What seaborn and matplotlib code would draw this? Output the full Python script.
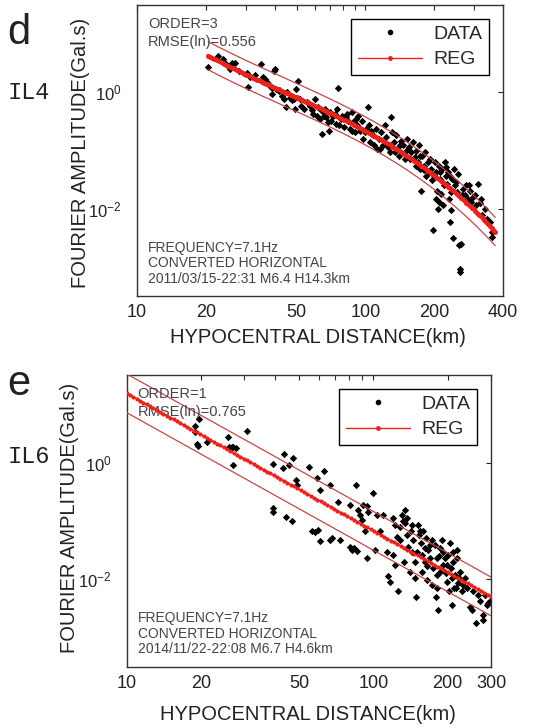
import numpy as np
import pandas as pd
import seaborn as sns
import matplotlib.pyplot as plt
from matplotlib.lines import Line2D
from matplotlib.ticker import FixedLocator, NullFormatter, LogFormatterSciNotation

# ---- panel d (IL4), values in log10 units ----
d_logx = [1.312, 1.356, 1.375, 1.386, 1.397, 1.407, 1.417, 1.430, 1.448, 1.480, 1.487, 1.494,
          1.516, 1.541, 1.552, 1.560, 1.571, 1.582, 1.592, 1.599, 1.605, 1.608, 1.593,
          1.622, 1.634, 1.643, 1.652, 1.657, 1.669, 1.678, 1.687, 1.695, 1.706, 1.692,
          1.713, 1.720, 1.730, 1.742, 1.757, 1.764, 1.771, 1.778, 1.786, 1.793, 1.800, 1.808,
          1.812, 1.822, 1.829, 1.837, 1.841, 1.844, 1.859,
          1.866, 1.873, 1.880, 1.885, 1.891, 1.899, 1.905, 1.914, 1.924, 1.931, 1.939, 1.946,
          1.953, 1.961, 1.968, 1.975, 1.983, 1.990, 1.997,
          2.012, 2.016, 2.022, 2.031, 2.036, 2.045, 2.051, 2.060, 2.070, 2.077, 2.085, 2.092,
          2.099, 2.106, 2.114, 2.118, 2.124, 2.133, 2.138, 2.147, 2.157, 2.165, 2.172,
          2.182, 2.191, 2.201, 2.208, 2.216, 2.223, 2.230, 2.235, 2.241, 2.245, 2.249, 2.255,
          2.261, 2.267, 2.274, 2.281, 2.289, 2.293,
          2.296, 2.303, 2.308, 2.311, 2.318, 2.322, 2.328, 2.332, 2.337, 2.340, 2.347, 2.351,
          2.357, 2.362, 2.366, 2.372, 2.376, 2.380, 2.383, 2.386, 2.391, 2.395,
          2.401, 2.405, 2.410, 2.413, 2.415, 2.420, 2.427, 2.434, 2.442, 2.449, 2.456, 2.464,
          2.471, 2.478, 2.485, 2.493, 2.500, 2.512, 2.522, 2.532, 2.544, 2.554, 2.555,
          1.800, 1.818, 1.851, 1.876, 1.920, 1.943, 1.958, 2.004, 2.026, 2.063, 2.128, 2.150,
          2.179, 2.197, 2.220, 2.238, 2.258, 2.278, 2.299, 2.325, 2.354, 2.369, 2.343, 2.313,
          2.322, 2.376, 2.424, 2.453, 2.507]
d_logy = [0.43, 0.62, 0.57, 0.50, 0.46, 0.40, 0.50, 0.50, 0.37, 0.34, 0.09, 0.27,
          0.29, 0.48, 0.27, 0.23, 0.17, 0.11, 0.07, 0.37, 0.40, 0.06, -0.03,
          0.03, -0.06, -0.11, -0.26, 0.00, -0.09, -0.14, -0.11, 0.06, 0.20, -0.29,
          -0.11, -0.23, -0.29, -0.17, -0.23, -0.31, -0.37, -0.11, -0.40, -0.26, -0.46, -0.71,
          -0.34, -0.29, -0.43, -0.51, -0.66, -0.34, -0.40,
          -0.37, -0.54, 0.07, -0.57, -0.46, -0.40, -0.60, -0.43, -0.49, -0.63, -0.34, -0.51,
          -0.69, -0.57, -0.40, -0.66, -0.49, -0.80, -0.69,
          -0.26, -0.57, -0.86, -0.74, -0.91, -0.63, -0.97, -0.80, -0.69, -0.91, -0.57, -0.77,
          -0.94, -1.03, -0.43, -0.69, -0.86, -0.74, -0.97, -1.09, -0.83, -0.91, -1.14,
          -0.80, -0.94, -1.03, -0.86, -1.11, -1.00, -1.20, -0.91, -1.31, -1.69, -1.09, -1.26,
          -1.03, -1.43, -1.20, -1.14, -1.31, -1.51,
          -2.37, -1.20, -1.83, -1.37, -2.00, -1.26, -1.49, -1.74, -1.31, -1.94, -1.20, -1.43,
          -1.57, -1.37, -1.83, -2.23, -2.03, -1.49, -2.51, -1.31, -1.60, -1.54,
          -1.71, -1.40, -2.63, -3.03, -3.09, -2.60, -1.66, -1.77, -1.60, -1.83, -1.69, -1.89,
          -1.80, -1.77, -1.94, -1.57, -1.91, -2.11, -2.00, -2.17, -2.23, -2.40, -2.49,
          -0.29, -0.40, -0.49, -0.29, -0.37, -0.66, -0.46, -0.63, -0.66, -0.97, -1.03, -0.91,
          -1.00, -1.14, -1.26, -1.09, -1.34, -1.37, -1.43, -1.37, -1.29, -1.43, -1.60, -1.69,
          -1.89, -1.71, -1.77, -1.60, -1.83]

# ---- panel e (IL6) ----
e_logx = [1.293, 1.277, 1.277, 1.284, 1.291, 1.324, 1.412, 1.416, 1.426, 1.432, 1.443, 1.432,
          1.489, 1.595, 1.595, 1.595, 1.638, 1.646, 1.632, 1.659, 1.669, 1.673, 1.686, 1.689,
          1.741, 1.750, 1.764, 1.777, 1.770, 1.784, 1.800, 1.784, 1.824, 1.824, 1.831, 1.858,
          1.865, 1.905, 1.930, 1.905, 1.912, 1.922, 1.932, 1.939, 1.946, 1.953, 1.959, 1.966,
          1.973, 1.973, 1.980, 2.000, 2.007, 2.014, 2.027, 2.041, 2.054, 2.061, 2.068, 2.078,
          2.081, 2.088, 2.095, 2.101, 2.108, 2.115, 2.122, 2.124, 2.128, 2.135, 2.138, 2.142,
          2.149, 2.155, 2.162, 2.169, 2.173, 2.176, 2.182, 2.186, 2.192, 2.196, 2.203, 2.209,
          2.214, 2.219, 2.223, 2.230, 2.236, 2.243, 2.250, 2.254, 2.257, 2.264, 2.268, 2.270,
          2.277, 2.284, 2.291, 2.295, 2.297, 2.304, 2.308, 2.311, 2.314, 2.318, 2.322, 2.324,
          2.331, 2.335, 2.338, 2.341, 2.345, 2.351, 2.358, 2.365, 2.372, 2.378, 2.392, 2.399,
          2.405, 2.416, 2.426, 2.432, 2.443, 2.446, 2.453, 2.459, 2.466, 2.473,
          2.088, 2.108, 2.128, 2.151, 2.189, 2.209, 2.230, 2.257, 2.270, 2.284, 2.300, 2.318,
          2.327, 2.349, 2.257, 2.236, 2.216, 2.169, 2.155, 2.196]
e_logy = [0.74, 0.62, 0.53, 0.31, 0.29, 0.36, 0.43, 0.27, 0.26, 0.27, 0.25, -0.04,
          0.54, -0.03, -0.78, -0.84, 0.14, -0.93, -0.10, -0.05, -1.01, 0.07, -0.30, -0.38,
          -0.08, -1.18, -1.19, -1.15, -0.26, -0.47, -0.14, -1.35, -0.38, -1.33, -1.30, -0.67,
          -1.33, -0.73, -0.38, -1.44, -1.50, -1.47, -1.51, -0.81, -0.90, -0.98, -0.73, -1.18,
          -0.75, -1.64, -0.84, -0.53, -1.50, -0.90, -1.18, -0.90, -1.53, -1.95, -2.04, -1.58,
          -0.95, -1.75, -1.27, -2.21, -1.33, -0.90, -1.01, -1.70, -0.81, -0.95, -1.24, -1.44,
          -1.87, -1.07, -1.33, -1.98, -2.30, -1.53, -1.07, -1.24, -1.38, -1.58, -1.18, -1.70,
          -1.30, -2.01, -1.50, -1.64, -1.33, -1.81, -1.41, -2.30, -2.15, -2.53, -1.61, -1.47,
          -1.33, -1.75, -1.64, -1.90, -2.04, -1.58, -2.21, -1.38, -1.81, -2.44, -1.70, -1.53,
          -1.93, -2.15, -1.64, -1.50, -2.07, -1.87, -2.21, -2.10, -1.98, -2.15, -2.47, -2.53,
          -2.21, -2.75, -2.27, -2.38, -2.61, -2.70, -2.27, -2.44, -2.41, -2.38,
          -1.07, -1.10, -1.04, -1.18, -1.18, -1.47, -1.41, -1.64, -1.87, -1.53, -1.75, -1.98,
          -2.15, -1.98, -1.93, -2.10, -1.78, -1.70, -1.53, -1.87]

panels = [
    dict(letter="d", station="IL4", logx=d_logx, logy=d_logy, order=3, rmse=0.556,
         xlim=(10, 400), xticks=[10, 20, 50, 100, 200, 400], curve=(20.5, 370),
         info=["FREQUENCY=7.1Hz", "CONVERTED HORIZONTAL", "2011/03/15-22:31 M6.4 H14.3km"],
         rect=[0.2528, 0.5934, 0.6752, 0.3997], reg_lw=2.6, reg_ms=3.6, npts=160),
    dict(letter="e", station="IL6", logx=e_logx, logy=e_logy, order=1, rmse=0.765,
         xlim=(10, 300), xticks=[10, 20, 50, 100, 200, 300], curve=(10, 300),
         info=["FREQUENCY=7.1Hz", "CONVERTED HORIZONTAL", "2014/11/22-22:08 M6.7 H4.6km"],
         rect=[0.2338, 0.0842, 0.6722, 0.4007], reg_lw=1.3, reg_ms=3.0, npts=110),
]

sns.set_theme(style="white")
plt.rcParams['font.family'] = ['Liberation Sans', 'DejaVu Sans']
plt.rcParams['mathtext.fontset'] = 'custom'
plt.rcParams['mathtext.rm'] = 'Liberation Sans'

fig = plt.figure(figsize=(5.42, 7.28), dpi=100)
red = "#e8231c"
bound_col = "#c0474a"

for p in panels:
    ax = fig.add_axes(p["rect"])
    df = pd.DataFrame({"dist": 10 ** np.array(p["logx"]), "amp": 10 ** np.array(p["logy"])})
    sns.scatterplot(data=df, x="dist", y="amp", ax=ax, color="black", marker="D", s=14,
                    linewidth=0, zorder=2)

    # regression in log-log space with the stated order, bounds at +/- RMSE(ln)
    coef = np.polyfit(p["logx"], p["logy"], p["order"])
    gx = np.linspace(np.log10(p["curve"][0]), np.log10(p["curve"][1]), p["npts"])
    gy = np.polyval(coef, gx)
    off = p["rmse"] / np.log(10)
    reg = pd.DataFrame({"dist": 10 ** gx, "amp": 10 ** gy,
                        "hi": 10 ** (gy + off), "lo": 10 ** (gy - off)})
    ax.plot(reg["dist"], reg["hi"], color=bound_col, lw=0.9, zorder=3)
    ax.plot(reg["dist"], reg["lo"], color=bound_col, lw=0.9, zorder=3)
    sns.lineplot(data=reg, x="dist", y="amp", ax=ax, color=red, lw=p["reg_lw"], marker="o",
                 markersize=p["reg_ms"], markeredgewidth=0, zorder=4)

    ax.set_xscale("log")
    ax.set_yscale("log")
    ax.set_xlim(*p["xlim"])
    ax.set_ylim(10 ** -3.5, 10 ** 1.5)
    ax.set_xlabel("")
    ax.set_ylabel("")

    allt = [v for v in range(10, 100, 10)] + [v for v in range(100, 1000, 100)]
    allt = [v for v in allt if p["xlim"][0] <= v <= p["xlim"][1]]
    ax.xaxis.set_major_locator(FixedLocator(p["xticks"]))
    ax.xaxis.set_minor_locator(FixedLocator([v for v in allt if v not in p["xticks"]]))
    ax.set_xticklabels([str(v) for v in p["xticks"]])
    ax.xaxis.set_minor_formatter(NullFormatter())
    ax.yaxis.set_major_locator(FixedLocator([1e-2, 1e0]))
    ax.yaxis.set_major_formatter(LogFormatterSciNotation())
    ax.yaxis.set_minor_locator(FixedLocator([]))
    ax.tick_params(which="both", direction="in", top=True, right=True, length=3.5,
                   width=0.8, color="#333333")
    ax.tick_params(axis="x", labelsize=13, pad=6, colors="#222222")
    ax.tick_params(axis="y", labelsize=12, pad=11, colors="#222222")
    for s in ax.spines.values():
        s.set_color("#333333")
        s.set_linewidth(1.0)

    ax.text(0.03, 0.96, "ORDER=%d\nRMSE(ln)=%.3f" % (p["order"], p["rmse"]),
            transform=ax.transAxes, va="top", ha="left", fontsize=10.5, color="#444444",
            linespacing=1.4)
    ax.text(0.03, 0.035, "\n".join(p["info"]), transform=ax.transAxes, va="bottom",
            ha="left", fontsize=10, color="#444444", linespacing=1.15)

    handles = [Line2D([], [], color="black", marker="o", markersize=3, lw=0),
               Line2D([], [], color=red, marker="o", markersize=2.5, lw=1.0)]
    leg = ax.legend(handles, ["DATA", "REG"], loc="upper right", fontsize=14,
                    frameon=True, fancybox=False, edgecolor="black", framealpha=1,
                    handlelength=3.3, borderaxespad=0.7, labelspacing=0.4,
                    borderpad=0.35, handletextpad=0.6)
    leg.get_frame().set_linewidth(1.0)

# labels and panel letters
fig.text(0.586, 0.537, "HYPOCENTRAL DISTANCE(km)", ha="center", va="center", fontsize=14.5,
         color="#222222")
fig.text(0.568, 0.019, "HYPOCENTRAL DISTANCE(km)", ha="center", va="center", fontsize=14.5,
         color="#222222")
fig.text(0.148, 0.79, "FOURIER AMPLITUDE(Gal.s)", ha="center", va="center", rotation=90,
         fontsize=14.5, color="#222222")
fig.text(0.129, 0.288, "FOURIER AMPLITUDE(Gal.s)", ha="center", va="center", rotation=90,
         fontsize=14.5, color="#222222")
fig.text(0.014, 0.982, "d", ha="left", va="top", fontsize=30, color="#222222")
fig.text(0.014, 0.500, "e", ha="left", va="top", fontsize=30, color="#222222")
fig.text(0.014, 0.873, "IL4", ha="left", va="center", fontsize=17, color="#222222",
         family="Liberation Mono")
fig.text(0.014, 0.373, "IL6", ha="left", va="center", fontsize=17, color="#222222",
         family="Liberation Mono")

plt.savefig("out.png", dpi=100)
